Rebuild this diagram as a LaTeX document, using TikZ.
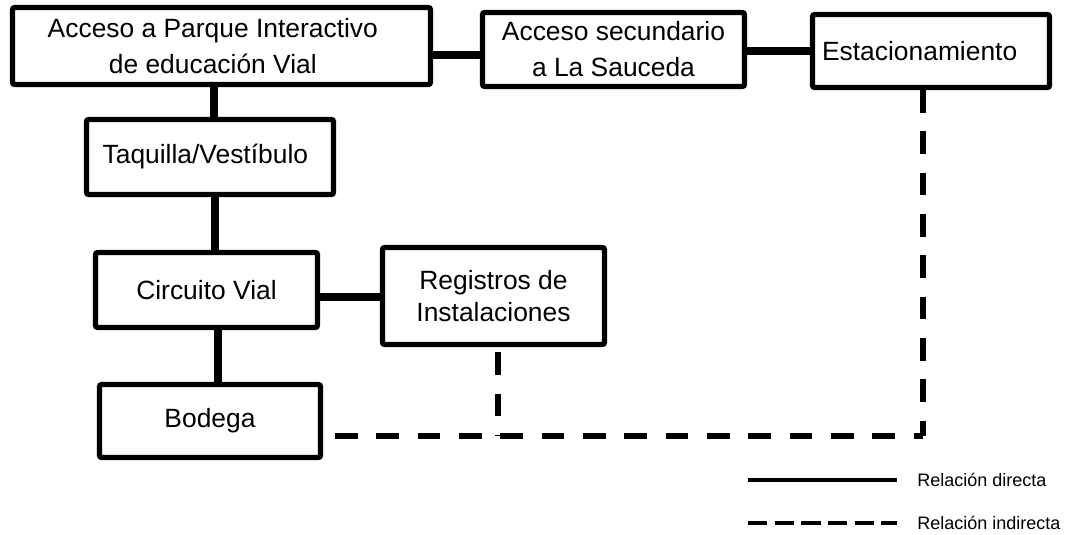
\documentclass[tikz,border=0pt]{standalone}
\usepackage{fontspec}
\setmainfont{Liberation Sans}
\begin{document}
\begin{tikzpicture}[x=0.75pt,y=-0.75pt,
  box/.style={draw=black, line width=3.8pt, rounded corners=1.5pt, fill=white, align=center, inner sep=0pt,
    font=\fontsize{19.8}{27}\selectfont},
  direct/.style={line width=6pt, black},
  indirect/.style={line width=4.9pt, black, dash pattern=on 17pt off 14pt},
  legdirect/.style={line width=3pt, black},
  legindirect/.style={line width=3pt, black, dash pattern=on 14.5pt off 5.5pt},
  legtext/.style={anchor=west, inner sep=0pt, font=\fontsize{13.5}{16}\selectfont}]
\useasboundingbox (0,0) rectangle (1065,535);
\fill[white] (0,0) rectangle (1065,535);

% boxes
\node[box, minimum width=313.5pt, minimum height=57.75pt] (acc) at (221.5,46)
  {\hspace*{-13pt}Acceso a Parque Interactivo\\\hspace*{-13pt}de educación Vial};
\node[box, minimum width=196.5pt, minimum height=55.5pt] (sec) at (613.5,49.5)
  {Acceso secundario\\a La Sauceda};
\node[box, minimum width=177.75pt, minimum height=54.75pt] (est) at (931,51)
  {\hspace*{-17pt}Estacionamiento};
\node[box, minimum width=185.25pt, minimum height=56.25pt] (taq) at (210,157)
  {\hspace*{-7pt}Taquilla/Vestíbulo};
\node[box, minimum width=166.5pt, minimum height=56.25pt] (cir) at (206.5,290)
  {Circuito Vial};
\node[box, minimum width=165.75pt, minimum height=54.75pt] (bod) at (210,421)
  {Bodega};
\node[box, minimum width=166.5pt, minimum height=72.75pt, font=\fontsize{19.8}{23.5}\selectfont] (reg) at (493.5,296)
  {Registros de\\Instalaciones};

% direct relations
\draw[direct] (acc.east |- 0,55) -- (sec.west |- 0,55);
\draw[direct] (sec.east |- 0,51) -- (est.west |- 0,51);
\draw[direct] (acc.south -| 214,0) -- (taq.north -| 214,0);
\draw[direct] (taq.south -| 215,0) -- (cir.north -| 215,0);
\draw[direct] (cir.south -| 218,0) -- (bod.north -| 218,0);
\draw[direct] (cir.east |- 0,297) -- (reg.west |- 0,297);

% indirect relations
\coordinate (corner) at (923,436);
\coordinate (regfoot) at (498,436);
\draw[indirect, dash phase=22pt] (bod.east |- corner) -- (corner);
\draw[indirect] (est.south -| corner) -- (corner);
\draw[indirect, dash phase=27pt] (reg.south -| regfoot) -- (regfoot);

% legend
\coordinate (l1a) at (748,480);
\coordinate (l2a) at (748,523);
\node[legtext] (t1) at (917,480) {Relación directa};
\node[legtext] (t2) at (917,523) {Relación indirecta};
\draw[legdirect] (l1a) -- ([xshift=-15pt]t1.west);
\draw[legindirect] (l2a) -- ([xshift=-15pt]t2.west);
\end{tikzpicture}
\end{document}
